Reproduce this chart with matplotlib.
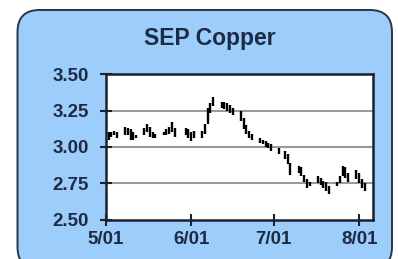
import matplotlib.pyplot as plt
from matplotlib.patches import FancyBboxPatch
import datetime as dt

plt.rcParams['font.family'] = ['Liberation Sans', 'DejaVu Sans']

# trading days, May 2 - Aug 3
days = ["2006-05-02", "2006-05-03", "2006-05-04", "2006-05-05",
        "2006-05-08", "2006-05-09", "2006-05-10", "2006-05-11", "2006-05-12",
        "2006-05-15", "2006-05-16", "2006-05-17", "2006-05-18", "2006-05-19",
        "2006-05-22", "2006-05-23", "2006-05-24", "2006-05-25", "2006-05-26",
        "2006-05-30", "2006-05-31", "2006-06-01", "2006-06-02",
        "2006-06-05", "2006-06-06", "2006-06-07", "2006-06-08", "2006-06-09",
        "2006-06-12", "2006-06-13", "2006-06-14", "2006-06-15", "2006-06-16",
        "2006-06-19", "2006-06-20", "2006-06-21", "2006-06-22", "2006-06-23",
        "2006-06-26", "2006-06-27", "2006-06-28", "2006-06-29", "2006-06-30",
        "2006-07-03", "2006-07-05", "2006-07-06", "2006-07-07",
        "2006-07-10", "2006-07-11", "2006-07-12", "2006-07-13", "2006-07-14",
        "2006-07-17", "2006-07-18", "2006-07-19", "2006-07-20", "2006-07-21",
        "2006-07-24", "2006-07-25", "2006-07-26", "2006-07-27", "2006-07-28",
        "2006-07-31", "2006-08-01", "2006-08-02", "2006-08-03"]

lows = [3.05, 3.07, 3.08, 3.06,
        3.08, 3.08, 3.05, 3.05, 3.06,
        3.08, 3.10, 3.07, 3.06, 3.06,
        3.08, 3.08, 3.09, 3.10, 3.07,
        3.08, 3.06, 3.04, 3.06,
        3.06, 3.09, 3.16, 3.23, 3.28,
        3.27, 3.26, 3.25, 3.23, 3.22,
        3.18, 3.12, 3.09, 3.06, 3.05,
        3.03, 3.02, 3.00, 2.99, 2.97,
        2.95, 2.92, 2.88, 2.81,
        2.82, 2.80, 2.76, 2.72, 2.73,
        2.75, 2.74, 2.72, 2.70, 2.68,
        2.73, 2.75, 2.80, 2.79, 2.76,
        2.78, 2.75, 2.72, 2.70]

highs = [3.10, 3.10, 3.11, 3.10,
         3.14, 3.13, 3.12, 3.10, 3.08,
         3.13, 3.16, 3.14, 3.10, 3.09,
         3.10, 3.12, 3.14, 3.17, 3.13,
         3.13, 3.12, 3.10, 3.11,
         3.11, 3.16, 3.27, 3.30, 3.34,
         3.31, 3.31, 3.30, 3.29, 3.27,
         3.25, 3.20, 3.15, 3.11, 3.09,
         3.06, 3.05, 3.04, 3.03, 3.02,
         2.99, 2.97, 2.95, 2.89,
         2.87, 2.86, 2.81, 2.78, 2.76,
         2.80, 2.79, 2.77, 2.76, 2.73,
         2.76, 2.80, 2.87, 2.86, 2.82,
         2.84, 2.82, 2.78, 2.75]

tick_dates = ["2006-05-01", "2006-06-01", "2006-07-01", "2006-08-01"]
tick_labels = ["5/01", "6/01", "7/01", "8/01"]
y_ticks = [2.50, 2.75, 3.00, 3.25, 3.50]

x = [dt.datetime.strptime(d, "%Y-%m-%d") for d in days]
xt = [dt.datetime.strptime(d, "%Y-%m-%d") for d in tick_dates]

fig = plt.figure(figsize=(3.98, 2.59), dpi=100)
fig.patch.set_facecolor('white')

box = FancyBboxPatch((0.175, -0.1), 3.745, 2.59, boxstyle="round,pad=0,rounding_size=0.22",
                     transform=fig.dpi_scale_trans, facecolor='#9dcdfb',
                     edgecolor='#2a3646', linewidth=1.4, zorder=-5)
fig.add_artist(box)

txt_col = '#1e2b44'
fig.text(0.527, 0.853, "SEP Copper", ha='center', va='center', fontsize=16.5,
         fontweight='bold', color=txt_col)

ax = fig.add_axes([0.266, 0.151, 0.671, 0.563])
ax.set_facecolor('white')
ax.vlines(x, lows, highs, color='black', linewidth=1.7, zorder=3)

ax.set_ylim(2.5, 3.5)
ax.set_xlim(dt.datetime(2006, 5, 1), dt.datetime(2006, 8, 6))
ax.set_yticks(y_ticks)
ax.set_yticklabels(["%.2f" % v for v in y_ticks])
ax.set_xticks(xt)
ax.set_xticklabels(tick_labels)
for v in y_ticks[1:-1]:
    ax.axhline(v, color='#9a9a9a', linewidth=1.5, zorder=1)

for s in ax.spines.values():
    s.set_color('#1a2230')
    s.set_linewidth(1.8)
ax.tick_params(axis='both', direction='inout', length=8, width=1.5, color='#1a2230',
               labelsize=13.5, labelcolor=txt_col)
ax.tick_params(axis='x', pad=4)
ax.tick_params(axis='y', pad=8)
for lab in ax.get_xticklabels() + ax.get_yticklabels():
    lab.set_fontweight('bold')

fig.savefig("out.png", dpi=100)
